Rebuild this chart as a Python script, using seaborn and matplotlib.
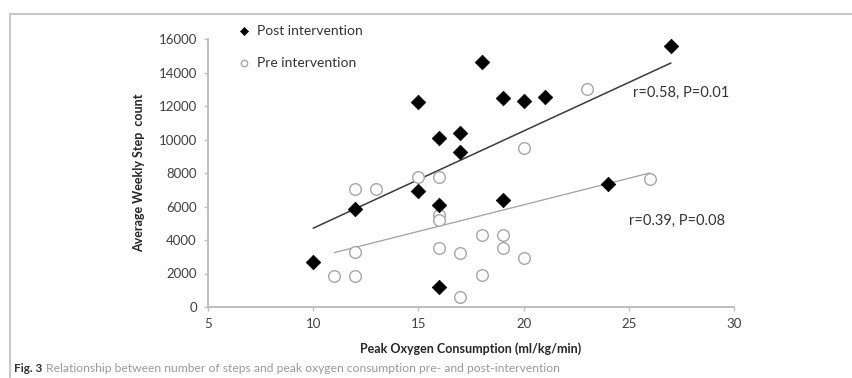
import matplotlib
matplotlib.use("Agg")
import matplotlib.pyplot as plt
from matplotlib.lines import Line2D
import seaborn as sns
import pandas as pd

# ---- data ----
post_x = [10, 12, 15, 15, 16, 16, 16, 17, 17, 18, 19, 19, 20, 21, 24, 27]
post_y = [2700, 5850, 12250, 6900, 10100, 6100, 1200, 10400, 9250, 14600,
          12500, 6400, 12300, 12550, 7350, 15600]
pre_x = [11, 12, 12, 12, 13, 15, 16, 16, 16, 16, 17, 17, 18, 18, 19, 19, 20, 20, 23, 26]
pre_y = [1850, 1850, 3280, 7040, 7040, 7760, 7760, 5500, 5200, 3520, 3220, 600,
         4300, 1900, 4300, 3520, 2900, 9500, 13000, 7640]
post_label = "Post intervention"
pre_label = "Pre intervention"
post_stat = "r=0.58, P=0.01"
pre_stat = "r=0.39, P=0.08"
x_ticks = [5, 10, 15, 20, 25, 30]
y_ticks = [0, 2000, 4000, 6000, 8000, 10000, 12000, 14000, 16000]

post_df = pd.DataFrame({"x": post_x, "y": post_y})
pre_df = pd.DataFrame({"x": pre_x, "y": pre_y})

sns.set_style("white")
plt.rcParams["font.family"] = ["Lato", "DejaVu Sans"]

W, H = 853, 378
fig = plt.figure(figsize=(W / 100, H / 100), dpi=100)
ax = fig.add_axes([208 / W, 1 - 307 / H, (734 - 208) / W, (307 - 39) / H])

# regression lines
sns.regplot(data=post_df, x="x", y="y", ax=ax, scatter=False, ci=None,
            truncate=True, line_kws=dict(color="#3a3a3a", lw=1.1))
sns.regplot(data=pre_df, x="x", y="y", ax=ax, scatter=False, ci=None,
            truncate=True, line_kws=dict(color="#a0a0a0", lw=0.9))

# points
sns.scatterplot(data=pre_df, x="x", y="y", ax=ax, marker="o", s=70,
                facecolor="white", edgecolor="#a6a6a6", linewidth=1.0,
                label=pre_label, zorder=3)
sns.scatterplot(data=post_df, x="x", y="y", ax=ax, marker="D", s=55,
                color="black", edgecolor="black", linewidth=0.5,
                label=post_label, zorder=4)
if ax.get_legend() is not None:
    ax.get_legend().remove()

ax.set_xlim(5, 30)
ax.set_ylim(0, 16000)
ax.set_xticks(x_ticks)
ax.set_yticks(y_ticks)
ax.set_xticklabels([str(v) for v in x_ticks])
ax.set_yticklabels([str(v) for v in y_ticks])
ax.tick_params(axis="both", labelsize=9.5, colors="#bfbfbf", labelcolor="#404040",
               length=3, width=1, direction="out", pad=5, left=True, bottom=True)
for s in ["top", "right"]:
    ax.spines[s].set_visible(False)
for s in ["left", "bottom"]:
    ax.spines[s].set_color("#c0c0c0")
    ax.spines[s].set_linewidth(1.5)

ax.set_xlabel("Peak Oxygen Consumption (ml/kg/min)", fontsize=9,
              fontweight="bold", color="#262626", labelpad=9)
ax.set_ylabel("Average Weekly Step  count", fontsize=9,
              fontweight="bold", color="#262626", labelpad=10)

ax.text(25.2, 12800, post_stat, fontsize=10.5, color="#333333", va="center", ha="left")
ax.text(25.0, 5150, pre_stat, fontsize=10.5, color="#333333", va="center", ha="left")

# legend
handles, labels = ax.get_legend_handles_labels()
order = [labels.index(post_label), labels.index(pre_label)]
leg = fig.legend([handles[i] for i in order], [labels[i] for i in order],
                 loc="upper left", bbox_to_anchor=(240 / W, 1 - 25 / H),
                 frameon=False, fontsize=10, labelspacing=1.45,
                 handlelength=0.6, handletextpad=0.6, markerscale=0.55,
                 borderaxespad=0, borderpad=0)
for t in leg.get_texts():
    t.set_color("#333333")

# outer frame
fig.add_artist(Line2D([10 / W, 1.0], [1 - 14 / H, 1 - 14 / H], color="#c8c8c8", lw=1.5))
fig.add_artist(Line2D([10 / W, 10 / W], [1 - 14 / H, 0.0], color="#c8c8c8", lw=1.5))

# caption
cap1 = fig.text(14 / W, 1 - 368 / H, "Fig. 3", fontsize=8.5, fontweight="bold",
                color="#333333", va="center", ha="left")
fig.canvas.draw()
bb = cap1.get_window_extent()
fig.text((bb.x1 + 4) / W, 1 - 368 / H,
         "Relationship between number of steps and peak oxygen consumption pre- and post-intervention",
         fontsize=8.7, color="#9a9a9a", va="center", ha="left")

fig.savefig("out.png", dpi=100)
